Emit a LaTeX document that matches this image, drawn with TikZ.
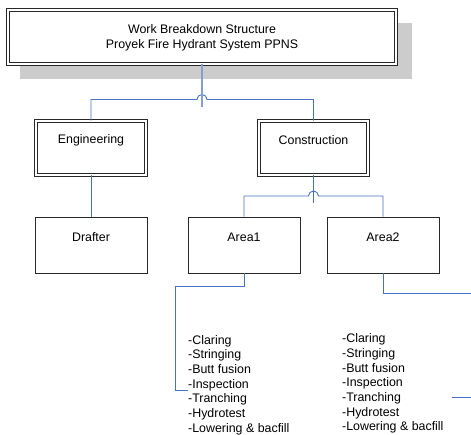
\documentclass[tikz,border=0pt]{standalone}
\usepackage{fontspec}
\setmainfont{Liberation Sans}
\begin{document}
\begin{tikzpicture}[x=1pt,y=-1pt,
  conn/.style={draw={rgb,255:red,68;green,114;blue,196}, line width=0.9pt},
  connlight/.style={draw={rgb,255:red,130;green,160;blue,215}, line width=1.1pt},
  box/.style={draw={rgb,255:red,40;green,40;blue,40}, line width=0.9pt, inner sep=0pt},
  dbl/.style={box, double={white}, double distance=1.6pt},
  lbl/.style={font=\fontsize{12.4}{14.7}\selectfont, inner sep=0pt, align=center},
  lst/.style={font=\fontsize{12.4}{14.7}\selectfont, inner sep=0pt, align=left, anchor=north west}]
\useasboundingbox (0,0) rectangle (471,434);
% shadow
\fill[gray!40] (20,23) rectangle (412,79);
% top box
\node[dbl, fill=white, minimum width=388pt, minimum height=54pt] (wbs) at (202,37) {};
\node[lbl] (wbst) at (202,37.5) {Work Breakdown Structure\\Proyek Fire Hydrant System PPNS};
% level 2
\node[dbl, minimum width=110pt, minimum height=54pt] (eng) at (91,148) {};
\node[lbl] (engt) at (91,140.5) {Engineering};
\node[dbl, minimum width=109pt, minimum height=54pt] (con) at (313.5,148) {};
\node[lbl] (cont) at (313.5,140.5) {Construction};
% level 3
\node[box, minimum width=112pt, minimum height=56pt] (dra) at (91,245) {};
\node[lbl] (drat) at (91,237.5) {Drafter};
\node[box, minimum width=112pt, minimum height=56pt] (ar1) at (244,245) {};
\node[lbl] (ar1t) at (244,237.5) {Area1};
\node[box, minimum width=112pt, minimum height=56pt] (ar2) at (383,245) {};
\node[lbl] (ar2t) at (383,237.5) {Area2};
% lists
\node[lst] (l1) at (188,335) {-Claring\\-Stringing\\-Butt fusion\\-Inspection\\-Tranching\\-Hydrotest\\-Lowering \& bacfill};
\node[lst] (l2) at (342,333.5) {-Claring\\-Stringing\\-Butt fusion\\-Inspection\\-Tranching\\-Hydrotest\\-Lowering \& bacfill};
% connectors top
\draw[conn] (eng.north) |- (197,99.5) arc[start angle=180, end angle=360, radius=5] -- (con.north |- 0,99.5) -- (con.north);
\draw[connlight] (wbs.south) -- (202,107);
% construction connectors
\draw[conn] (ar1.north) |- (308.5,196) arc[start angle=180, end angle=360, radius=5] -- (ar2.north |- 0,196) -- (ar2.north);
\draw[conn] (con.south) -- (313.5,203);
% engineering to drafter
\draw[conn] (eng.south) -- (dra.north);
% area1 to list
\coordinate (c1) at (175,286);
\draw[conn] (ar1.south) |- (c1) |- (l1.north west |- 0,390);
% area2 free connector
\coordinate (c2) at (471,293);
\draw[conn] (ar2.south) |- (c2);
\coordinate (c3) at (452,397);
\coordinate (c4) at (471,397);
\draw[conn] (c3) -- (c4);
\end{tikzpicture}
\end{document}
